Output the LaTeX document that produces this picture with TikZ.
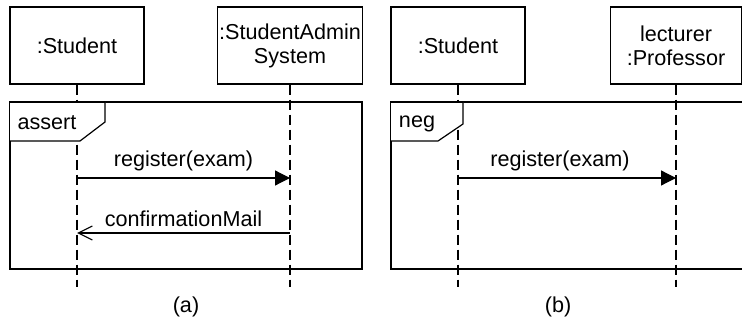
\documentclass[tikz,border=0pt]{standalone}
\usepackage{fontspec}
\setmainfont{Liberation Sans}
\usetikzlibrary{arrows.meta,positioning,calc}
\tikzset{
    lifebox/.style={draw, align=center, minimum height=38.5pt, inner sep=1pt},
    lifeline/.style={dash pattern=on 5pt off 2.5pt},
    fragframe/.style={draw},
    fragtab/.style={fill=white},
    msgarrow/.style={-{Triangle[length=7.5pt, width=7.5pt]}},
    replyarrow/.style={-{Straight Barb[length=7pt, width=7pt]}},
    msglabel/.style={above, inner sep=3pt}
}

\begin{document}
\begin{tikzpicture}[x=0.5pt, y=-0.5pt, line width=0.6pt, font=\fontsize{10.8}{12}\selectfont]
    \useasboundingbox (0,0) rectangle (742,325);
    \clip (0,0) rectangle (742,325);

    % (a) assert
    \node[lifebox, minimum width=67pt] (stuA) at (77,45.5) {:Student};
    \node[lifebox, minimum width=72pt] (sasA) at (290,45.5) {:StudentAdmin\\System};
    \coordinate (endA) at (0,287);
    \coordinate (regRowA) at (0,178);
    \coordinate (mailRowA) at (0,233);

    \draw[fragframe] (10,102) rectangle (362,269);
    \draw[lifeline] (stuA.south) -- (stuA |- endA);
    \draw[lifeline] (sasA.south) -- (sasA |- endA);

    \fill[fragtab] (10,102) -- (105,102) -- (105,122) -- (80,141) -- (10,141) -- cycle;
    \draw (10,141) -- (80,141) -- (105,122) -- (105,102);
    \draw (10,102) -- (105,102);
    \node (assert) at (47,123) {assert};

    \draw[msgarrow] (stuA |- regRowA) -- node[msglabel] {register(exam)} (sasA |- regRowA);
    \draw[replyarrow] (sasA |- mailRowA) -- node[msglabel] {confirmationMail} (stuA |- mailRowA);

    \node (capA) at (186,307) {(a)};

    % (b) neg
    \node[lifebox, minimum width=67pt] (stuB) at (458,45.5) {:Student};
    \node[lifebox, minimum width=65.5pt] (profB) at (676,45.5) {lecturer\\:Professor};
    \coordinate (regRowB) at (0,178);

    \draw[fragframe] (391,102) rectangle (760,269);
    \draw[lifeline] (stuB.south) -- (stuB |- endA);
    \draw[lifeline] (profB.south) -- (profB |- endA);

    \fill[fragtab] (391,102) -- (463,102) -- (463,124) -- (438,141) -- (391,141) -- cycle;
    \draw (391,141) -- (438,141) -- (463,124) -- (463,102);
    \draw (391,102) -- (463,102);
    \node (neg) at (417,124) {neg};

    \draw[msgarrow] (stuB |- regRowB) -- node[msglabel, xshift=-3.5pt] {register(exam)} (profB |- regRowB);

    \node (capB) at (558,307) {(b)};
\end{tikzpicture}
\end{document}
